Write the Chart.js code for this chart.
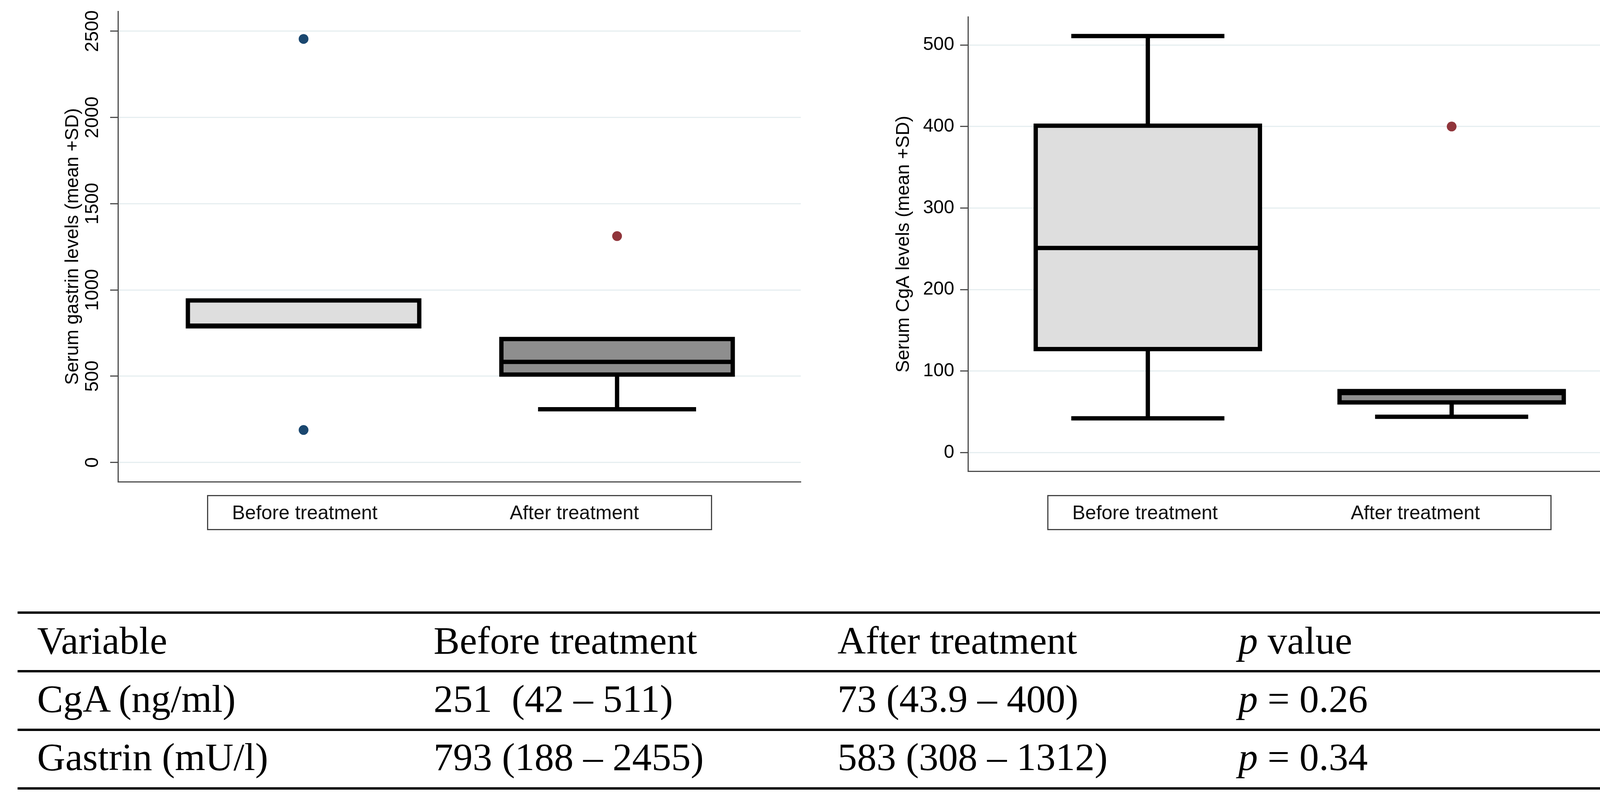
<!DOCTYPE html>
<html>
<head>
<meta charset="utf-8">
<script src="https://cdn.jsdelivr.net/npm/chart.js@4.4.1/dist/chart.umd.min.js"></script>
<style>
  html, body { margin: 0; padding: 0; background: #fff; }
  #page { position: relative; width: 4244px; height: 2063px; overflow: hidden; background: #fff; }
  .plot { position: absolute; top: 0; height: 1250px; }
  .keybox { position: absolute; top: 1267px; height: 90px; border: 3px solid #444; box-sizing: border-box;
            font-family: "Liberation Sans", Arial, sans-serif; font-size: 50px; color: #111; }
  .keybox span { position: absolute; top: 0; line-height: 84px; white-space: nowrap; }
  .rule { position: absolute; left: 45px; width: 4117px; height: 6px; background: #000; }
  .cell { position: absolute; font-family: "Liberation Serif", "Times New Roman", serif; font-size: 100px;
          line-height: 100px; white-space: nowrap; color: #000; }
  .cell i { font-style: italic; }
</style>
</head>
<body>
<div id="page">
  <div class="plot" style="left:0;width:2120px"><canvas id="gastrinChart"></canvas></div>
  <div class="plot" style="left:2120px;width:2124px"><canvas id="cgaChart"></canvas></div>

  <div class="keybox" style="left:530px;width:1293px">
    <span style="left:61px">Before treatment</span><span style="left:772px">After treatment</span>
  </div>
  <div class="keybox" style="left:2681px;width:1291px">
    <span style="left:61px">Before treatment</span><span style="left:774px">After treatment</span>
  </div>

  <div class="rule" style="top:1565px"></div>
  <div class="rule" style="top:1715px"></div>
  <div class="rule" style="top:1865px"></div>
  <div class="rule" style="top:2015px"></div>

  <div class="cell" style="left:95px;top:1590px">Variable</div>
  <div class="cell" style="left:1110px;top:1590px">Before treatment</div>
  <div class="cell" style="left:2144px;top:1590px">After treatment</div>
  <div class="cell" style="left:3170px;top:1590px"><i>p</i> value</div>

  <div class="cell" style="left:95px;top:1739px">CgA (ng/ml)</div>
  <div class="cell" style="left:1110px;top:1739px">251&nbsp; (42 – 511)</div>
  <div class="cell" style="left:2144px;top:1739px">73 (43.9 – 400)</div>
  <div class="cell" style="left:3170px;top:1739px"><i>p</i> = 0.26</div>

  <div class="cell" style="left:95px;top:1888px">Gastrin (mU/l)</div>
  <div class="cell" style="left:1110px;top:1888px">793 (188 – 2455)</div>
  <div class="cell" style="left:2144px;top:1888px">583 (308 – 1312)</div>
  <div class="cell" style="left:3170px;top:1888px"><i>p</i> = 0.34</div>
</div>

<script>
// groups along the x axis (index 0 = before, 1 = after)
const groups = ['Before treatment', 'After treatment'];

// serum gastrin box plot values
const gastrinLow = [789, 308];
const gastrinQ1 = [789, 509];
const gastrinMedian = [793, 583];
const gastrinQ3 = [939, 715];
const gastrinHigh = [939, 715];
const gastrinOutliers = [[2455, 188], [1312]];
const gastrinTicks = [0, 500, 1000, 1500, 2000, 2500];

// serum CgA box plot values
const cgaLow = [42, 43.9];
const cgaQ1 = [127, 61.6];
const cgaMedian = [251, 73];
const cgaQ3 = [401, 75.5];
const cgaHigh = [511, 75.5];
const cgaOutliers = [[], [400]];
const cgaTicks = [0, 100, 200, 300, 400, 500];

const boxFills = ['#dedede', '#8e8e8e'];
const dotColors = ['#1a476f', '#90353b'];

Chart.defaults.font.family = '"Liberation Sans", Arial, sans-serif';
Chart.defaults.color = '#000';

// draws boxes, medians and whiskers from the stats arrays through the chart scales
const boxPlotPlugin = {
    id: 'boxplot',
    beforeDatasetsDraw(chart, args, opts) {
        const {ctx, scales: {x, y}} = chart;
        ctx.save();
        ctx.strokeStyle = '#000';
        ctx.lineWidth = opts.lineWidth;
        ctx.lineCap = 'butt';
        opts.q1.forEach((q1, i) => {
            const xl = x.getPixelForValue(i - opts.boxHalf);
            const xr = x.getPixelForValue(i + opts.boxHalf);
            const xc = x.getPixelForValue(i);
            const cl = x.getPixelForValue(i - opts.capHalf);
            const cr = x.getPixelForValue(i + opts.capHalf);
            const yq1 = y.getPixelForValue(q1);
            const yq3 = y.getPixelForValue(opts.q3[i]);
            const ymed = y.getPixelForValue(opts.median[i]);
            const ylo = y.getPixelForValue(opts.low[i]);
            const yhi = y.getPixelForValue(opts.high[i]);

            ctx.beginPath();
            if (opts.low[i] < q1) {
                ctx.moveTo(xc, yq1); ctx.lineTo(xc, ylo);
                ctx.moveTo(cl, ylo); ctx.lineTo(cr, ylo);
            }
            if (opts.high[i] > opts.q3[i]) {
                ctx.moveTo(xc, yq3); ctx.lineTo(xc, yhi);
                ctx.moveTo(cl, yhi); ctx.lineTo(cr, yhi);
            }
            ctx.stroke();

            ctx.fillStyle = opts.fills[i];
            ctx.fillRect(xl, yq3, xr - xl, yq1 - yq3);
            ctx.beginPath();
            ctx.rect(xl, yq3, xr - xl, yq1 - yq3);
            ctx.moveTo(xl, ymed); ctx.lineTo(xr, ymed);
            ctx.stroke();
        });
        ctx.restore();
    }
};

// left panel writes its tick labels turned on their side
const sideTicksPlugin = {
    id: 'sideTicks',
    afterDraw(chart, args, opts) {
        if (!opts.show) return;
        const {ctx, scales: {y}} = chart;
        ctx.save();
        ctx.font = '48px "Liberation Sans", Arial, sans-serif';
        ctx.fillStyle = '#000';
        ctx.textAlign = 'center';
        ctx.textBaseline = 'middle';
        y.ticks.forEach(t => {
            ctx.save();
            ctx.translate(opts.x, y.getPixelForValue(t.value));
            ctx.rotate(-Math.PI / 2);
            ctx.fillText(String(t.value), 0, 0);
            ctx.restore();
        });
        ctx.restore();
    }
};

function makeBoxChart(canvasId, cfg) {
    const datasets = groups.map((g, i) => ({
        label: g,
        data: cfg.outliers[i].map(v => ({x: i, y: v})),
        backgroundColor: dotColors[i],
        borderWidth: 0,
        pointRadius: 12.5,
        pointHoverRadius: 12.5
    }));
    return new Chart(document.getElementById(canvasId), {
        type: 'scatter',
        data: {datasets: datasets},
        plugins: [boxPlotPlugin, sideTicksPlugin],
        options: {
            responsive: true,
            maintainAspectRatio: false,
            animation: false,
            layout: {padding: {left: 0, right: cfg.padRight, top: 29, bottom: 17}},
            plugins: {
                legend: {display: false},
                tooltip: {enabled: false},
                boxplot: {
                    q1: cfg.q1, q3: cfg.q3, median: cfg.median, low: cfg.low, high: cfg.high,
                    fills: boxFills, boxHalf: 0.369, capHalf: 0.252, lineWidth: 11
                },
                sideTicks: {show: cfg.sideTicks, x: 238}
            },
            scales: {
                x: {
                    type: 'linear',
                    min: -0.592,
                    max: 1.586,
                    grid: {display: false, drawTicks: false},
                    ticks: {display: false},
                    border: {display: true, color: '#4d4d4d', width: 3},
                    afterFit: s => { s.height = 0; }
                },
                y: {
                    min: cfg.min,
                    max: cfg.max,
                    afterBuildTicks: s => { s.ticks = cfg.ticks.map(v => ({value: v})); },
                    afterFit: s => { s.width = cfg.axisWidth; },
                    grid: {
                        color: '#e6eef0',
                        lineWidth: 3,
                        drawTicks: true,
                        tickLength: 20,
                        tickColor: '#4d4d4d',
                        tickWidth: 3
                    },
                    border: {display: true, color: '#4d4d4d', width: 3},
                    ticks: {
                        display: !cfg.sideTicks,
                        padding: 15,
                        font: {size: 48},
                        color: '#000'
                    },
                    title: {
                        display: true,
                        text: cfg.title,
                        font: {size: 48},
                        color: '#000',
                        padding: {top: cfg.titlePad, bottom: 0}
                    }
                }
            }
        }
    });
}

makeBoxChart('gastrinChart', {
    q1: gastrinQ1, q3: gastrinQ3, median: gastrinMedian, low: gastrinLow, high: gastrinHigh,
    outliers: gastrinOutliers, ticks: gastrinTicks,
    min: -112, max: 2615,
    axisWidth: 302, padRight: 70, titlePad: 158, sideTicks: true,
    title: 'Serum gastrin levels (mean +SD)'
});

makeBoxChart('cgaChart', {
    q1: cgaQ1, q3: cgaQ3, median: cgaMedian, low: cgaLow, high: cgaHigh,
    outliers: cgaOutliers, ticks: cgaTicks,
    min: -22.9, max: 534.2,
    axisWidth: 358, padRight: 72, titlePad: 165, sideTicks: false,
    title: 'Serum CgA levels (mean +SD)'
});
</script>
</body>
</html>
